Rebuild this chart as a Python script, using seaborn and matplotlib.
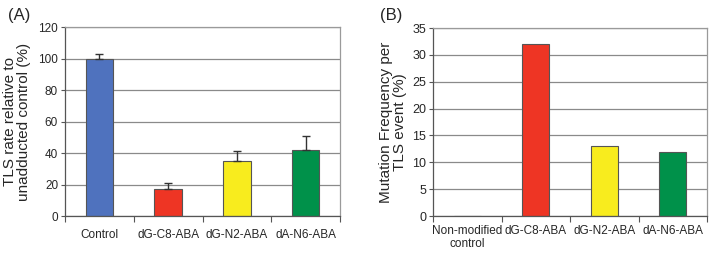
import matplotlib
matplotlib.use("Agg")
import matplotlib.pyplot as plt
import seaborn as sns
import pandas as pd
import numpy as np

# Data
cats_a = ["Control", "dG-C8-ABA", "dG-N2-ABA", "dA-N6-ABA"]
vals_a = [100, 17, 35, 42]
err_a = [3, 4, 6, 9]

cats_b = ["Non-modified\ncontrol", "dG-C8-ABA", "dG-N2-ABA", "dA-N6-ABA"]
vals_b = [0, 32, 13, 12]

colors_a = ["#4F72BE", "#EE3524", "#F8EC1E", "#00914A"]
colors_b = ["#4F72BE", "#EE3524", "#F8EC1E", "#00914A"]

sns.set_theme(style="white")
plt.rcParams['font.family'] = ['Liberation Sans', 'DejaVu Sans']

fig = plt.figure(figsize=(7.13, 2.54), dpi=100)
axA = fig.add_axes([0.0912, 0.1496, 0.3857, 0.744])
axB = fig.add_axes([0.6073, 0.1496, 0.3843, 0.740])

def style(ax, ymax, step, n):
    ax.set_ylim(0, ymax)
    ax.set_xlim(-0.5, n - 0.5)
    ax.set_yticks(np.arange(0, ymax + 0.001, step))
    ax.yaxis.grid(True, color="#8a8a8a", linewidth=0.9)
    ax.set_axisbelow(True)
    for s in ax.spines.values():
        s.set_color("#9a9a9a")
        s.set_linewidth(0.9)
    ax.spines['left'].set_color("#555555")
    ax.spines['bottom'].set_color("#555555")
    ax.tick_params(axis='y', which='major', direction='out', length=3, width=0.8,
                   color="#555555", labelsize=8.5, pad=2, left=True)
    ax.tick_params(axis='x', which='major', length=0, labelsize=8.5, pad=9)
    ax.set_xticks(np.arange(-0.5, n, 1.0), minor=True)
    ax.tick_params(axis='x', which='minor', direction='out', length=4, width=0.8,
                   color="#555555", bottom=True)
    ax.set_xlabel("")

dfA = pd.DataFrame({"cat": cats_a, "val": vals_a})
sns.barplot(data=dfA, x="cat", y="val", hue="cat", palette=colors_a, legend=False,
            width=0.4, saturation=1, edgecolor="#555555", linewidth=0.8,
            errorbar=None, ax=axA)
axA.errorbar(np.arange(len(cats_a)), vals_a, yerr=[np.zeros(len(err_a)), err_a],
             fmt="none", ecolor="#333333", elinewidth=1.0, capsize=3, capthick=1.0)
style(axA, 120, 20, len(cats_a))
axA.set_ylabel("TLS rate relative to\nunadducted control (%)", fontsize=11, labelpad=5,
               linespacing=1.0)

dfB = pd.DataFrame({"cat": cats_b, "val": vals_b})
sns.barplot(data=dfB, x="cat", y="val", hue="cat", palette=colors_b, legend=False,
            width=0.4, saturation=1, edgecolor="#555555", linewidth=0.8,
            errorbar=None, ax=axB)
style(axB, 35, 5, len(cats_b))
axB.tick_params(axis='y', which='major', labelsize=9)
axB.tick_params(axis='x', which='major', pad=6.5)
axB.set_ylabel("Mutation Frequency per\nTLS event (%)", fontsize=11, labelpad=4,
               linespacing=1.0)
for t in axB.get_xticklabels():
    t.set_linespacing(1.1)

fig.text(0.011, 0.94, "(A)", fontsize=12, ha="left", va="center")
fig.text(0.533, 0.94, "(B)", fontsize=12, ha="left", va="center")

fig.savefig("out.png", dpi=100)
